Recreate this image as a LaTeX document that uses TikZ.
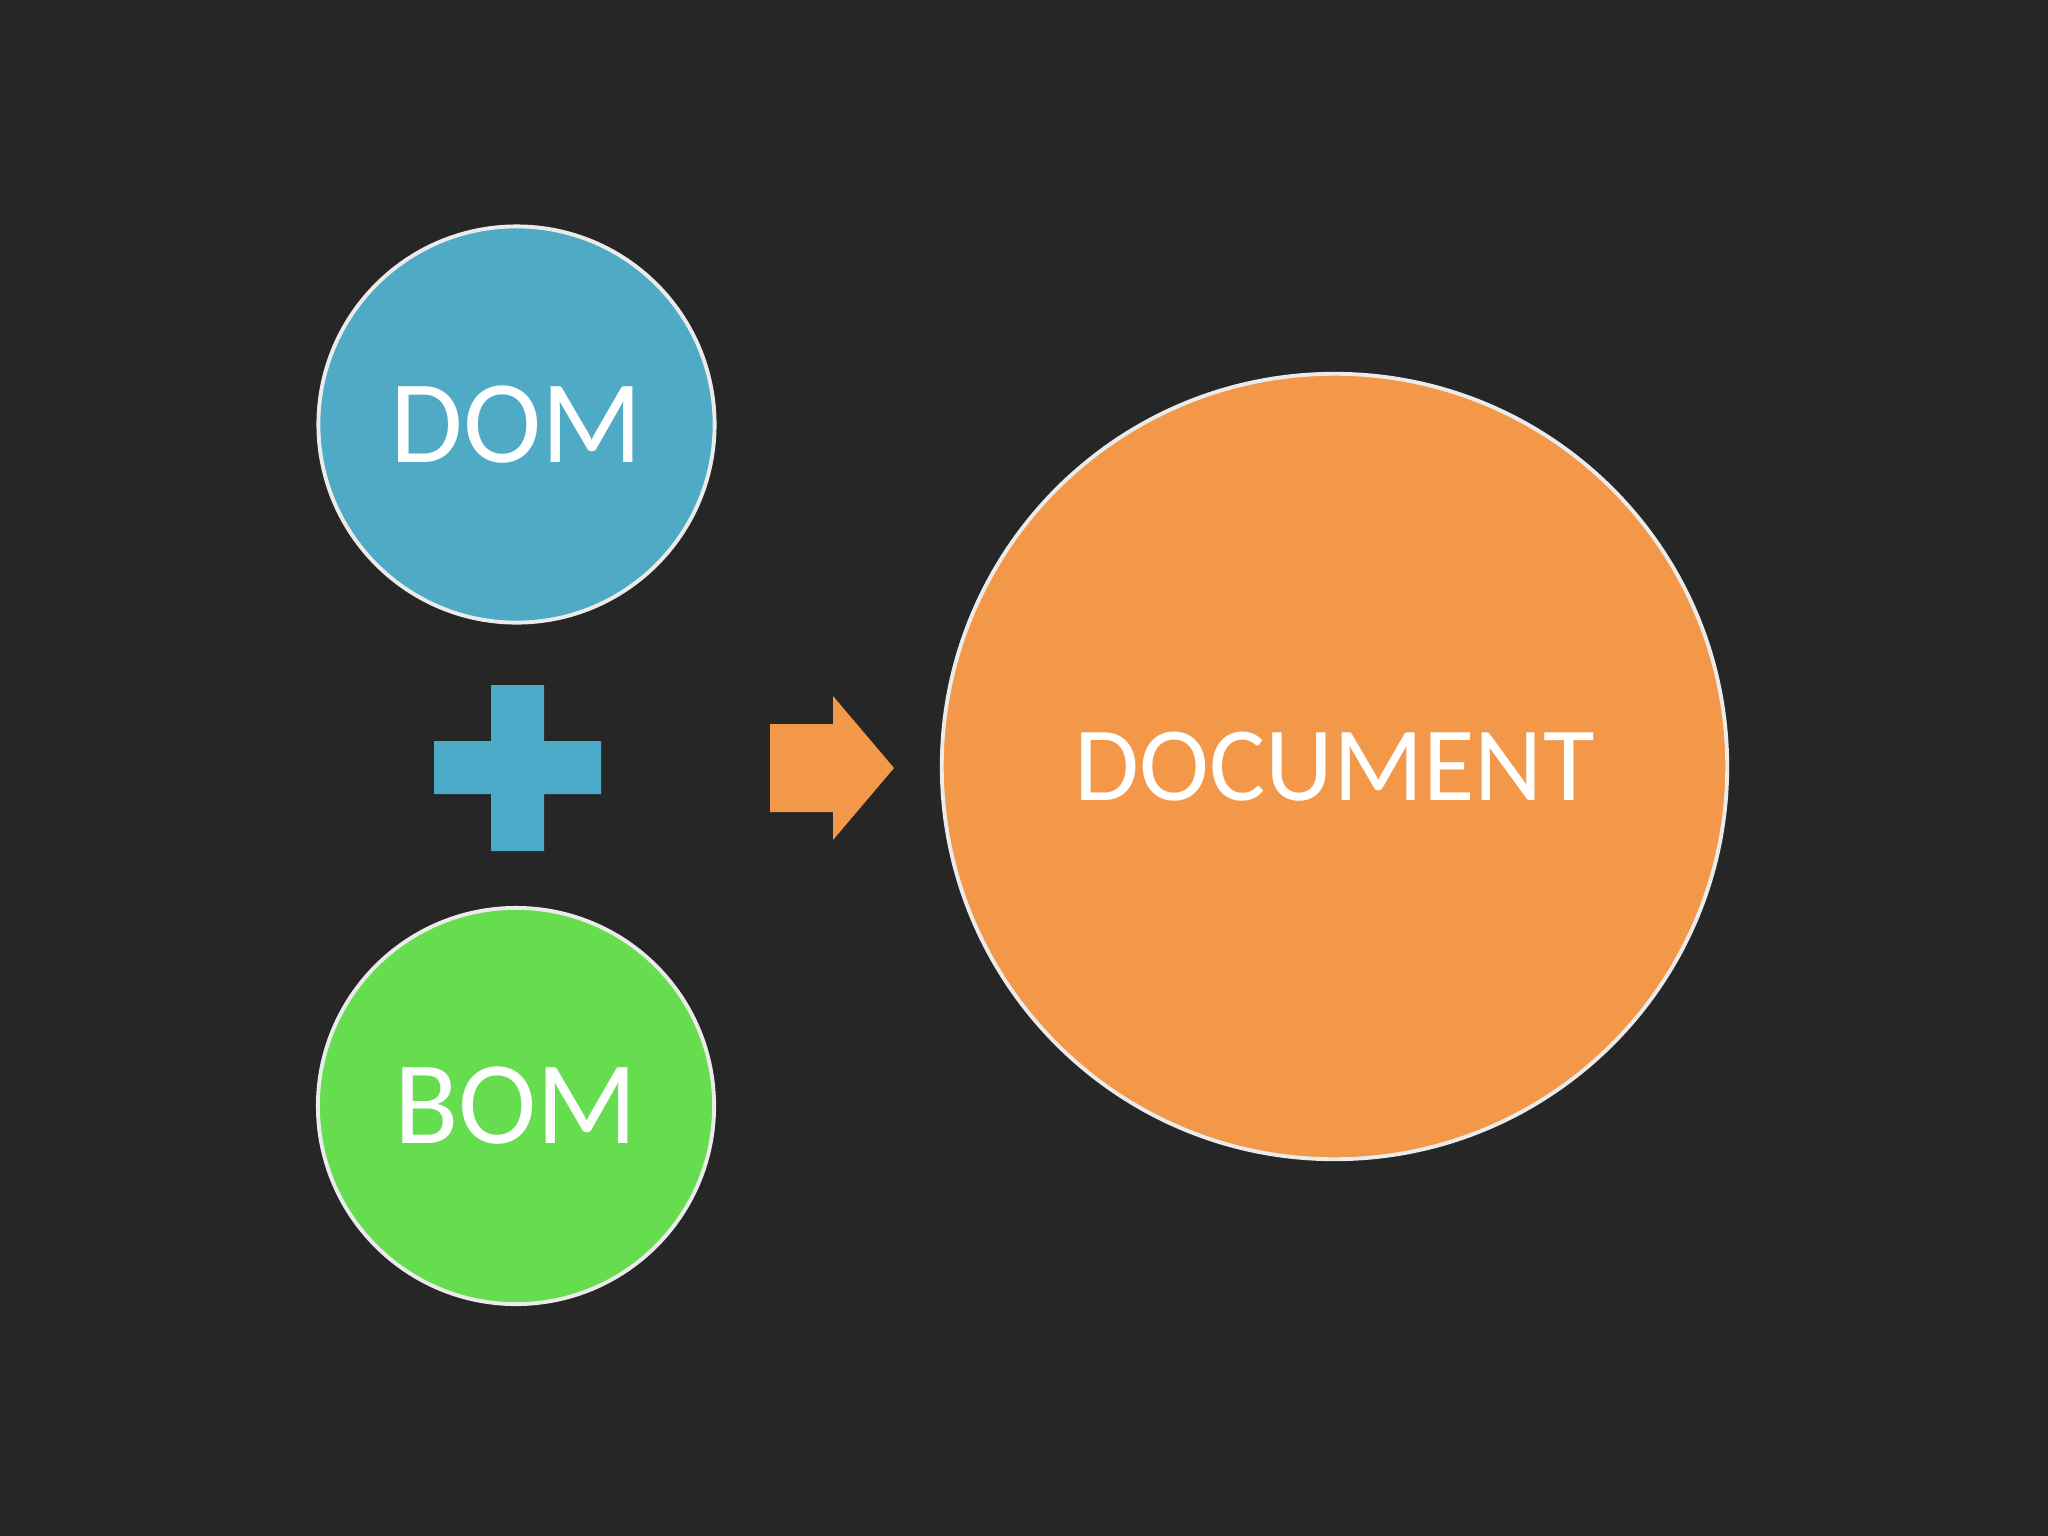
\documentclass[tikz,border=0pt]{standalone}
\usepackage{fontspec}
\setmainfont{Carlito}
\definecolor{bg}{HTML}{262626}
\definecolor{domblue}{HTML}{4FAAC6}
\definecolor{bomgreen}{HTML}{66DD4F}
\definecolor{docorange}{HTML}{F39849}
\definecolor{plusblue}{HTML}{4BAAC7}
\tikzset{
  ball/.style={circle, draw=white!92!black, line width=1.1pt, text=white, inner sep=0pt},
  smallball/.style={ball, minimum size=3.96cm, font=\fontsize{33.6}{40}\selectfont},
  bigball/.style={ball, minimum size=7.85cm, font=\fontsize{30}{36}\selectfont},
}
\begin{document}
\begin{tikzpicture}[x=0.01cm, y=-0.01cm]
\fill[bg] (0,0) rectangle (2048,1536);
\useasboundingbox (0,0) rectangle (2048,1536);
\node[smallball, fill=domblue] (dom) at (516.5,424.5) {DOM};
\node[smallball, fill=bomgreen] (bom) at (516,1106) {BOM};
\node[bigball, fill=docorange] (doc) at (1334.5,766.5) {DOCUMENT};
% plus sign
\fill[plusblue] (491,685) -- (544,685) -- (544,741) -- (601,741) -- (601,794) -- (544,794)
  -- (544,851) -- (491,851) -- (491,794) -- (434,794) -- (434,741) -- (491,741) -- cycle;
% arrow
\fill[docorange] (770,724) -- (833,724) -- (833,696) -- (894,768) -- (833,840) -- (833,812) -- (770,812) -- cycle;
\end{tikzpicture}
\end{document}
